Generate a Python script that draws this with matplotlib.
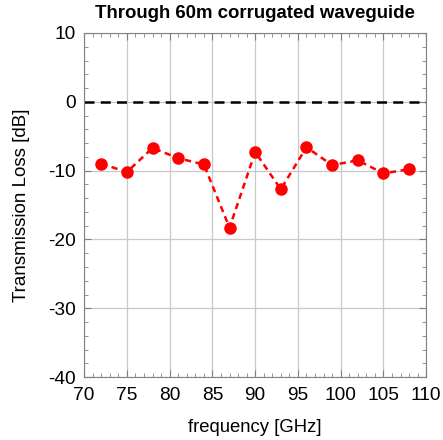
import matplotlib
matplotlib.use('Agg')
from matplotlib import pyplot as plt
from matplotlib.ticker import MultipleLocator

plt.rcParams['font.family'] = ['Liberation Sans', 'DejaVu Sans']
plt.rcParams['axes.unicode_minus'] = False

# measured points
freq = [72, 75, 78, 81, 84, 87, 90, 93, 96, 99, 102, 105, 108]
loss = [-9.0, -10.2, -6.7, -8.2, -9.1, -18.3, -7.3, -12.7, -6.6, -9.2, -8.5, -10.4, -9.8]

x_ticks = [70, 75, 80, 85, 90, 95, 100, 105, 110]
y_ticks = [-40, -30, -20, -10, 0, 10]

fig = plt.figure(figsize=(4.43, 4.40), dpi=100)
ax = fig.add_axes([0.19, 0.143, 0.772, 0.782])

ax.axhline(0, color='black', linestyle=(0, (4, 2.5)), linewidth=1.8, zorder=2)
ax.plot(freq, loss, color='#ff0000', linestyle=(0, (2.5, 1.8)), linewidth=1.8,
        marker='o', markersize=8, zorder=3)

ax.set_xlim(70, 110)
ax.set_ylim(-40, 10)
ax.set_xticks(x_ticks)
ax.set_yticks(y_ticks)
ax.xaxis.set_minor_locator(MultipleLocator(1))
ax.yaxis.set_minor_locator(MultipleLocator(2))
ax.grid(True, which='major', color='#c8c8c8', linewidth=0.9)

ax.tick_params(which='both', direction='in', top=True, right=True, color='#808080',
               labelsize=13.8)
ax.tick_params(axis='x', pad=7)
ax.tick_params(axis='y', pad=6)
ax.tick_params(which='major', length=5)
ax.tick_params(which='minor', length=3)
for spine in ax.spines.values():
    spine.set_color('#808080')

ax.set_title('Through 60m corrugated waveguide', fontsize=13.4, fontweight='bold', pad=11)
ax.set_xlabel('frequency [GHz]', fontsize=13.3, labelpad=11)
ax.set_ylabel('Transmission Loss [dB]', fontsize=13.5, labelpad=13)

fig.savefig('out.png', dpi=100)
